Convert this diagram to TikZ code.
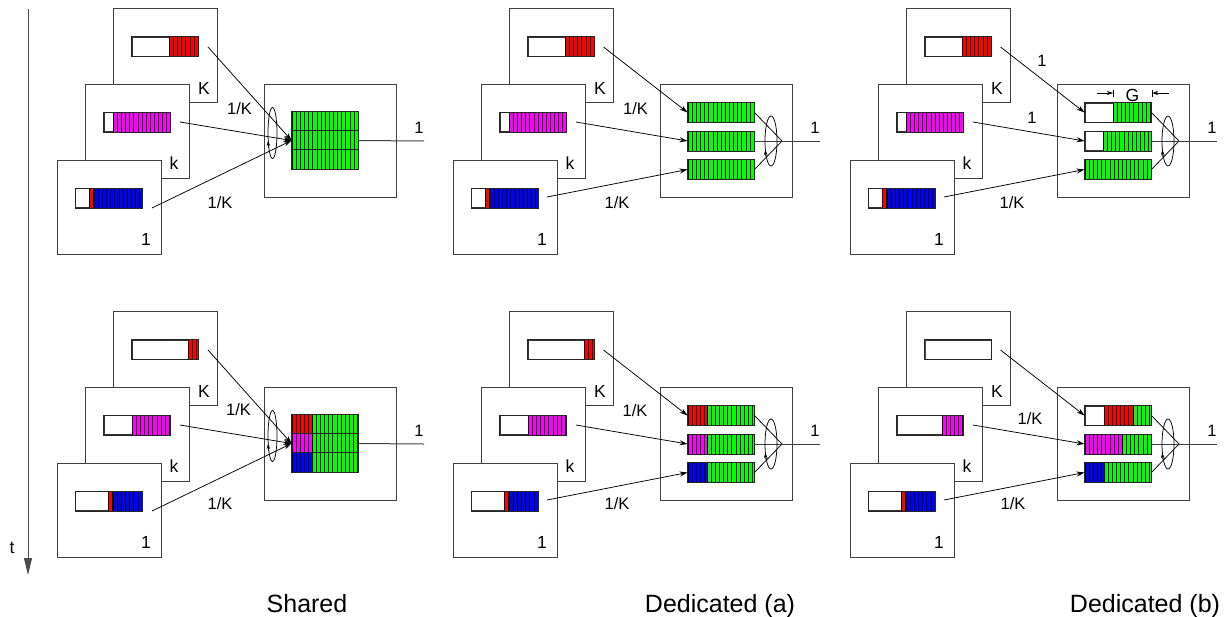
\documentclass[tikz,border=0pt]{standalone}
\usepackage{fontspec}
\setmainfont{Liberation Sans}
\usetikzlibrary{arrows.meta}

\definecolor{qred}{RGB}{255,0,0}
\definecolor{qmag}{RGB}{255,0,255}
\definecolor{qblue}{RGB}{0,0,255}
\definecolor{qgreen}{RGB}{0,255,0}
\definecolor{qwhite}{RGB}{255,255,255}

\tikzset{
  cbox/.style={draw=black!75, line width=1pt, fill=white, minimum width=104pt, minimum height=94pt, inner sep=0pt},
  srv/.style={draw=black!75, line width=1pt, fill=white, minimum width=132pt, minimum height=113pt, inner sep=0pt},
  qbox/.style={draw=black!80, line width=0.9pt, fill=white, minimum width=66pt, minimum height=19pt, inner sep=0pt},
  qline/.style={draw=black!85, line width=0.9pt},
  stripe/.style={draw=black, line width=0.5pt},
  lbl/.style={font=\fontsize{16.5}{18}\selectfont, anchor=base, inner sep=0pt},
  blbl/.style={font=\fontsize{17.5}{19}\selectfont, anchor=base, inner sep=0pt},
  captxt/.style={font=\fontsize{25}{28}\selectfont, anchor=base, inner sep=0pt},
  conn/.style={draw=black, line width=0.75pt, -{Stealth[length=8pt,width=5pt]}},
  wire/.style={draw=black, line width=0.75pt},
  outw/.style={draw=black!75, line width=1pt},
  rot/.style={draw=black, line width=0.6pt, -{Stealth[length=5pt,width=3.5pt]}},
  garr/.style={draw=black, line width=0.7pt, -{Stealth[length=6pt,width=4pt]}},
  axis/.style={draw=black!70, line width=1pt, -{Triangle[length=17pt,width=8pt]}},
}

% queue: name, left x, top y, segments colour/from/to (in cells)
\newcommand\Qu[4]{%
  \node[qbox] (#1) at ({#2+33},{#3+9.5}) {};
  \foreach \qc/\qa/\qb in {#4} {%
    \fill[\qc] ({#2+\qa*4.125},#3) rectangle ({#2+\qb*4.125},{#3+19});
    \foreach \qk in {0,...,16} {%
      \pgfmathsetmacro\qs{\qa+\qk}%
      \pgfmathtruncatemacro\qt{\qs<\qb}%
      \ifnum\qt=1 \draw[stripe] ({#2+\qs*4.125},#3) -- ({#2+\qs*4.125},{#3+19}); \fi
    }%
  }%
  \draw[qline] (#1.south west) rectangle (#1.north east);
}

% clients: prefix, K queue, k queue, 1 queue
\newcommand\Clients[4]{%
  \node[cbox] (#1K) at (165,55) {};
  \Qu{#1qK}{132}{37}{#2}
  \node[blbl] (#1lK) at (204,94) {K};
  \node[cbox] (#1k) at (137,131) {};
  \Qu{#1qk}{104}{112.5}{#3}
  \node[blbl] (#1lk) at (174,169) {k};
  \node[cbox] (#1o) at (109,207) {};
  \Qu{#1qo}{75.5}{188.5}{#4}
  \node[blbl] (#1lo) at (146,245) {1};
}

% shared server
\newcommand\ShSrv[4]{%
  \node[srv] (#1sv) at (330,140.5) {};
  \Qu{#1r1}{292}{112}{#2}
  \Qu{#1r2}{292}{131}{#3}
  \Qu{#1r3}{292}{150}{#4}
  \coordinate (#1out) at (424,141);
  \draw[outw] (#1r2.east) -- (#1out);
  \node[lbl] (#1ol) at (419,133) {1};
  \coordinate (#1sK) at (208,47);
  \coordinate (#1sk) at (180,122);
  \coordinate (#1so) at (152,208);
  \draw[conn] (#1sK) -- (#1r2.west);
  \draw[conn] (#1sk) -- (#1r2.west);
  \draw[conn] (#1so) -- (#1r2.west);
  \draw[wire] (272.5,133) ellipse [x radius=4.5, y radius=25.5];
  \draw[rot] (268.4,148) -- (268.1,141);
}

% dedicated server
\newcommand\DedSrv[4]{%
  \node[srv] (#1sv) at (330,140.5) {};
  \Qu{#1r1}{292}{103}{#2}
  \Qu{#1r2}{292}{131.5}{#3}
  \Qu{#1r3}{292}{160}{#4}
  \coordinate (#1m) at (386,141);
  \coordinate (#1out) at (424,141);
  \draw[wire] (#1r1.east) -- (#1m) -- (#1r3.east);
  \draw[outw] (#1r2.east) -- (#1out);
  \node[lbl] (#1ol) at (419,133) {1};
  \coordinate (#1sK) at (207.5,47);
  \coordinate (#1sk) at (180,122);
  \coordinate (#1so) at (151,197);
  \draw[conn] (#1sK) -- (#1r1.west);
  \draw[conn] (#1sk) -- (#1r2.west);
  \draw[conn] (#1so) -- (#1r3.west);
  \draw[wire] (375,141) ellipse [x radius=6, y radius=25];
  \draw[rot] (369.9,157) -- (369.3,150);
}

\begin{document}
\begin{tikzpicture}[x=1pt,y=-1pt]
\useasboundingbox (0,0) rectangle (1225,616);

% time axis
\coordinate (t0) at (28,9);
\coordinate (t1) at (28,575);
\draw[axis] (t0) -- (t1);
\node[blbl] (tl) at (12,553) {t};

% ---------- top row ----------
\begin{scope}
  \Clients{A}{qred/9/16}{qmag/2.2/16}{qred/3.3/4.5,qblue/4.5/16}
  \ShSrv{A}{qgreen/0/16}{qgreen/0/16}{qgreen/0/16}
  \node[lbl] (Al1) at (239.5,114) {1/K};
  \node[lbl] (Al2) at (220,208) {1/K};
\end{scope}

\begin{scope}[shift={(396,0)}]
  \Clients{B}{qred/9/16}{qmag/2.2/16}{qred/3.3/4.5,qblue/4.5/16}
  \DedSrv{B}{qgreen/0/16}{qgreen/0/16}{qgreen/0/16}
  \node[lbl] (Bl1) at (239.5,114) {1/K};
  \node[lbl] (Bl2) at (221,208) {1/K};
\end{scope}

\begin{scope}[shift={(793,0)}]
  \Clients{C}{qred/9/16}{qmag/2.2/16}{qred/3.3/4.5,qblue/4.5/16}
  \DedSrv{C}{qgreen/6.8/16}{qgreen/4.4/16}{qgreen/0/16}
  \node[lbl] (Cl1) at (249,66) {1};
  \node[lbl] (Cl2) at (239,123) {1};
  \node[lbl] (Cl3) at (219,208) {1/K};
  % G dimension
  \coordinate (Cga) at (304,93);
  \coordinate (Cgb) at (320,93);
  \coordinate (Cgc) at (376,93);
  \coordinate (Cgd) at (359,93);
  \draw[wire] (320,89.5) -- (320,96.5);
  \draw[wire] (359,89.5) -- (359,96.5);
  \draw[garr] (Cga) -- (Cgb);
  \draw[garr] (Cgc) -- (Cgd);
  \node[blbl] (CG) at (339.5,101.5) {G};
\end{scope}

% ---------- bottom row ----------
\begin{scope}[shift={(0,303)}]
  \Clients{D}{qred/13.6/16}{qmag/6.8/16}{qred/7.9/9.1,qblue/9.1/16}
  \ShSrv{D}{qred/0/4.85,qgreen/4.85/16}{qmag/0/4.85,qgreen/4.85/16}{qblue/0/4.85,qgreen/4.85/16}
  \node[lbl] (Dl1) at (238.5,112) {1/K};
  \node[lbl] (Dl2) at (220,206) {1/K};
\end{scope}

\begin{scope}[shift={(396,303)}]
  \Clients{E}{qred/13.6/16}{qmag/6.8/16}{qred/7.9/9.1,qblue/9.1/16}
  \DedSrv{E}{qred/0/4.6,qgreen/4.6/16}{qmag/0/4.6,qgreen/4.6/16}{qblue/0/4.6,qgreen/4.6/16}
  \node[lbl] (El1) at (239,113) {1/K};
  \node[lbl] (El2) at (221,206) {1/K};
\end{scope}

\begin{scope}[shift={(793,303)}]
  \Clients{F}{qwhite/0/0}{qmag/10.9/16}{qred/7.9/9.1,qblue/9.1/16}
  \DedSrv{F}{qred/4.6/11.6,qgreen/11.6/16}{qmag/0/9,qgreen/9/16}{qblue/0/4.6,qgreen/4.6/16}
  \node[lbl] (Fl1) at (237,121) {1/K};
  \node[lbl] (Fl2) at (220,206) {1/K};
\end{scope}

% captions
\node[captxt] (cap1) at (307,612) {Shared};
\node[captxt] (cap2) at (720,612) {Dedicated (a)};
\node[captxt] (cap3) at (1145,612) {Dedicated (b)};
\end{tikzpicture}
\end{document}
